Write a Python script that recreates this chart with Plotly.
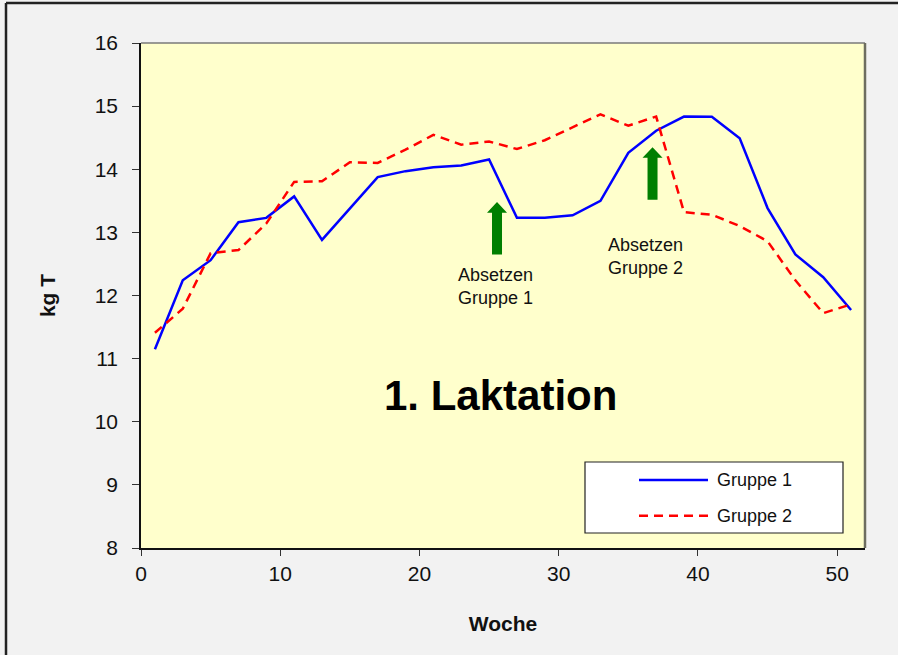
import plotly.graph_objects as go

# ---- data ----
weeks = [1, 3, 5, 7, 9, 11, 13, 15, 17, 19, 21, 23, 25,
         27, 29, 31, 33, 35, 37, 39, 41, 43, 45, 47, 49, 51]
gruppe1 = [11.15, 12.24, 12.56, 13.16, 13.23, 13.57, 12.88, 13.38, 13.875, 13.97,
           14.03, 14.06, 14.155, 13.23, 13.23, 13.27, 13.50, 14.26, 14.61, 14.835,
           14.83, 14.49, 13.385, 12.65, 12.29, 11.77]
gruppe2 = [11.41, 11.79, 12.67, 12.72, 13.14, 13.80, 13.81, 14.11, 14.10, 14.31,
           14.545, 14.39, 14.44, 14.32, 14.46, 14.67, 14.87, 14.69, 14.835, 13.32,
           13.28, 13.10, 12.86, 12.24, 11.72, 11.86]
series_names = ["Gruppe 1", "Gruppe 2"]
x_ticks = [0, 10, 20, 30, 40, 50]
y_ticks = [8, 9, 10, 11, 12, 13, 14, 15, 16]
x_title = "Woche"
y_title = "kg T"
chart_label = "1. Laktation"
events = [  # (arrow week, arrow tip value, label, label x, label y)
    (25.57, 13.48, "Absetzen<br>Gruppe 1", 25.43, 12.14),
    (36.74, 14.35, "Absetzen<br>Gruppe 2", 36.2, 12.62),
]

FONT = "Arial, Liberation Sans, sans-serif"

fig = go.Figure()
fig.add_trace(go.Scatter(x=weeks, y=gruppe1, mode="lines", name=series_names[0],
                         line=dict(color="#0000ff", width=2.5), showlegend=False))
fig.add_trace(go.Scatter(x=weeks, y=gruppe2, mode="lines", name=series_names[1],
                         line=dict(color="#ff0000", width=2.5, dash="9px,6px"),
                         showlegend=False))

shapes = []
annotations = []

# green arrows (pixel-sized, anchored at data position of arrow tip)
arrow_path = "M 0,0 L 10,-10.6 L 5,-10.6 L 5,-52.5 L -5,-52.5 L -5,-10.6 L -10,-10.6 Z"
for wx, wy, label, tx, ty in events:
    shapes.append(dict(type="path", xref="x", yref="y", xsizemode="pixel", ysizemode="pixel",
                       xanchor=wx, yanchor=wy, path=arrow_path,
                       fillcolor="#007f00", line=dict(color="#007f00", width=0)))
    annotations.append(dict(x=tx, y=ty, xref="x", yref="y", text=label, showarrow=False,
                            font=dict(family=FONT, size=18, color="#111111"),
                            align="left", xanchor="center", yanchor="middle"))

annotations.append(dict(x=25.8, y=10.42, xref="x", yref="y", text="<b>" + chart_label + "</b>",
                        showarrow=False, font=dict(family=FONT, size=42, color="#000000"),
                        xanchor="center", yanchor="middle"))

# plot-area top / right border
shapes.append(dict(type="line", xref="paper", yref="paper", x0=0, x1=1, y0=1, y1=1,
                   line=dict(color="#7a7a7a", width=1.5), layer="above"))
shapes.append(dict(type="line", xref="paper", yref="paper", x0=1, x1=1, y0=0, y1=1,
                   line=dict(color="#6e6e60", width=2.5), layer="above"))

# outer frame (left and top edges visible)
W, H = 724.0, 505.0
shapes.append(dict(type="line", xref="paper", yref="paper",
                   x0=-135 / W, x1=1.2, y0=1 + 40 / H, y1=1 + 40 / H,
                   line=dict(color="#222222", width=2.5)))
shapes.append(dict(type="line", xref="paper", yref="paper",
                   x0=-135 / W, x1=-135 / W, y0=-0.3, y1=1 + 40 / H,
                   line=dict(color="#222222", width=2.5)))

# legend box drawn manually
lx0, lx1 = (585 - 141) / W, (843 - 141) / W
ly0, ly1 = (548 - 533) / H, (548 - 462) / H
shapes.append(dict(type="rect", xref="paper", yref="paper", x0=lx0, x1=lx1, y0=ly0, y1=ly1,
                   fillcolor="#ffffff", line=dict(color="#222222", width=1.2)))
legend_rows = [(480, "#0000ff", "solid"), (515.7, "#ff0000", "9px,6px")]
for (py, col, dash), name in zip(legend_rows, series_names):
    yy = (548 - py) / H
    shapes.append(dict(type="line", xref="paper", yref="paper",
                       x0=(639 - 141) / W, x1=(708 - 141) / W, y0=yy, y1=yy,
                       line=dict(color=col, width=2.5, dash=dash)))
    annotations.append(dict(x=(715 - 141) / W, y=yy, xref="paper", yref="paper", text=name,
                            showarrow=False, xanchor="left", yanchor="middle",
                            font=dict(family=FONT, size=18, color="#111111")))

fig.update_layout(
    width=898, height=655,
    margin=dict(l=141, r=33, t=43, b=107),
    paper_bgcolor="#f2f2f2", plot_bgcolor="#ffffcc",
    font=dict(family=FONT, color="#111111"),
    shapes=shapes, annotations=annotations,
    showlegend=False,
)
fig.update_xaxes(range=[0, 52], tickvals=x_ticks, ticks="outside", ticklen=6,
                 tickcolor="#333333", showline=True, linecolor="#111111", linewidth=1.5,
                 showgrid=False, zeroline=False, tickfont=dict(size=21, family=FONT),
                 title=dict(text="<b>" + x_title + "</b>", font=dict(size=21, family=FONT),
                            standoff=32))
fig.update_yaxes(range=[8, 16], tickvals=y_ticks, ticks="outside", ticklen=7,
                 tickcolor="#333333", showline=True, linecolor="#111111", linewidth=1.5,
                 showgrid=False, zeroline=False, tickfont=dict(size=21, family=FONT),
                 ticklabelstandoff=10,
                 title=dict(text="<b>" + y_title + "</b>", font=dict(size=21, family=FONT),
                            standoff=33))

fig.write_html("out.html", config={"displayModeBar": False},
               post_script="document.body.style.margin='0';document.body.style.overflow='hidden';")
